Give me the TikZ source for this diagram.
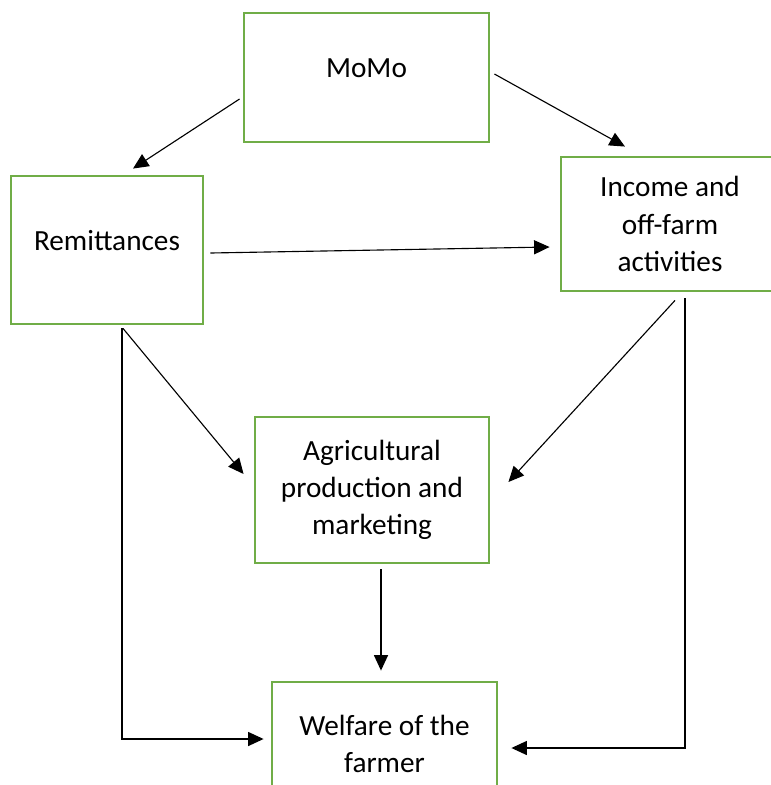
\documentclass[tikz,border=0pt]{standalone}
\usepackage{fontspec}
\setmainfont{Carlito}
\usetikzlibrary{arrows.meta,calc}
\definecolor{boxgreen}{HTML}{70AD47}

\begin{document}
\begin{tikzpicture}[x=0.025cm, y=-0.025cm, % one unit = one pixel, y downwards
    box/.style={draw=boxgreen, line width=2pt, align=center, inner sep=0pt,
        font=\fontsize{20.8}{26.5}\selectfont},
    upper/.style={text depth=14pt},
    link/.style={line width=0.8pt, -{Triangle[length=11pt,width=10pt]}}]
    \useasboundingbox (0,0) rectangle (771,785);

    % Boxes
    \node[box, upper, minimum width=6.125cm, minimum height=3.225cm] (momo) at (366.5,77.5) {MoMo};
    \node[box, upper, minimum width=4.8cm, minimum height=3.7cm] (remit) at (107,250) {Remittances};
    \node[box, minimum width=5.45cm, minimum height=3.35cm] (income) at (670,224) {Income and\\off-farm\\activities};
    \node[box, minimum width=5.85cm, minimum height=3.65cm] (agri) at (372,490) {Agricultural\\production and\\marketing};
    \node[box, minimum width=5.625cm, minimum height=3.1cm] (welfare) at (384.5,744) {Welfare of the\\farmer};

    % Arrows
    \draw[link] ($(momo.west)+(-3,21.5)$) -- ($(remit.north)+(26,-6)$);
    \draw[link] ($(momo.east)+(4,-3.5)$) -- ($(income.north)+(-45,-9)$);
    \draw[link] ($(remit.east)+(6,3)$) -- ($(income.west)+(-10,23)$);
    \draw[link] ($(remit.south)+(16,3)$) -- ($(agri.west)+(-10,-16)$);
    \draw[link] ($(income.south)+(5,8)$) -- ($(agri.east)+(18,-8)$);
    \draw[link] ($(agri.south)+(9,5)$) -- ($(welfare.north)+(-3.5,-10)$);

    % Side paths to the welfare box
    \draw[link] ($(remit.south)+(15,3)$) |- ($(welfare.west)+(-7,-5)$);
    \draw[link] ($(income.south)+(15,6)$) |- ($(welfare.east)+(13,4)$);
\end{tikzpicture}
\end{document}
